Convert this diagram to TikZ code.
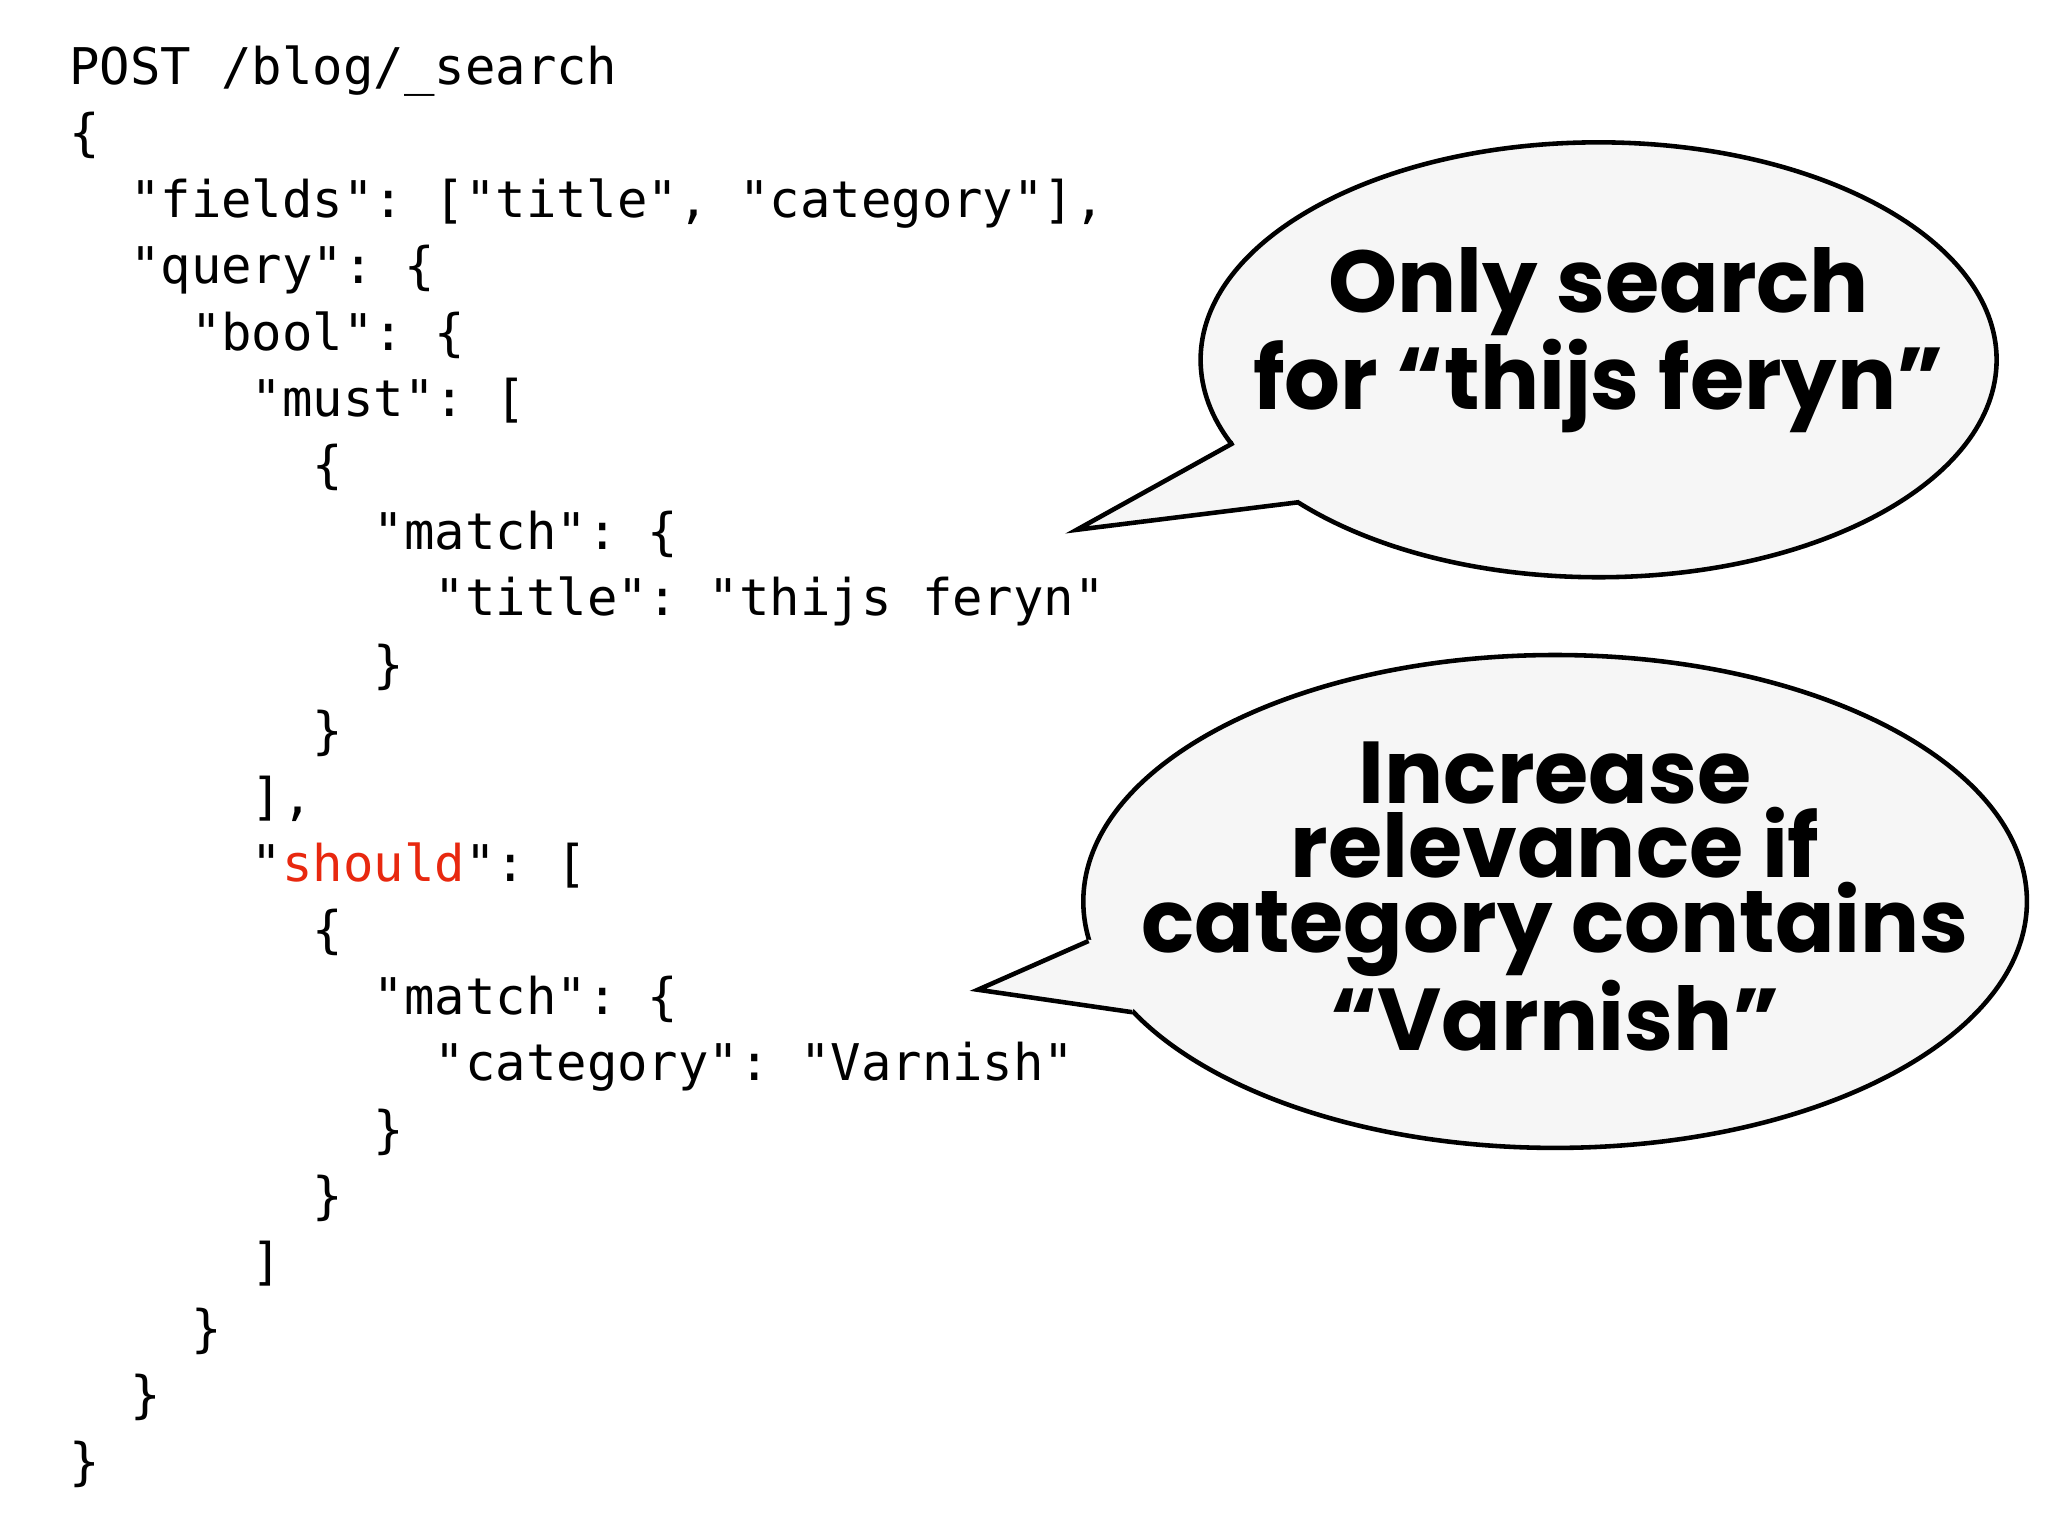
\documentclass[tikz,border=0pt]{standalone}
\usepackage{fontspec}
\setmonofont{DejaVu Sans Mono}
\newfontfamily\bubblefont{Poppins}
\usepackage{xcolor}
\definecolor{bub}{HTML}{F6F6F6}
\definecolor{kw}{HTML}{E8280F}
\tikzset{code/.style={anchor=base west,inner sep=0,font=\ttfamily\fontsize{14.4pt}{16pt}\selectfont},
bubtext/.style={align=center,inner sep=0,font=\bubblefont\bfseries\fontsize{25pt}{20pt}\selectfont}}
\begin{document}
\begin{tikzpicture}[x=0.01318cm,y=-0.01318cm]
\useasboundingbox[fill=white] (0,0) rectangle (1554,1165);
\foreach \t [count=\i from 0] in {POST /blog/\_search,\{,\ \ "fields": ["title"{,} "category"]{,},\ \ "query": \{,\ \ \ \ "bool": \{,\ \ \ \ \ \ "must": [,\ \ \ \ \ \ \ \ \{,\ \ \ \ \ \ \ \ \ \ "match": \{,\ \ \ \ \ \ \ \ \ \ \ \ "title": "thijs feryn",\ \ \ \ \ \ \ \ \ \ \},\ \ \ \ \ \ \ \ \},\ \ \ \ \ \ ]{,},{\ \ \ \ \ \ "\textcolor{kw}{should}": [},\ \ \ \ \ \ \ \ \{,\ \ \ \ \ \ \ \ \ \ "match": \{,\ \ \ \ \ \ \ \ \ \ \ \ "category": "Varnish",\ \ \ \ \ \ \ \ \ \ \},\ \ \ \ \ \ \ \ \},\ \ \ \ \ \ ],\ \ \ \ \},\ \ \},\}}
  \node[code] (l\i) at (52,{64+50.4*\i}) {\t};
% bubble 1
\draw[line width=1.3pt,fill=bub] (1213,273) ellipse [x radius=302,y radius=165];
\fill[bub] (936,335) -- (817,402) -- (986,380) -- (1000,330) -- cycle;
\draw[line width=1.3pt,line join=miter] (936,336) -- (817,402) -- (986,381);
\node[bubtext] (b1) at (1213,258) {Only search\\for “thijs feryn”};
% bubble 2
\draw[line width=1.3pt,fill=bub] (1180,684) ellipse [x radius=358,y radius=187];
\fill[bub] (826,713) -- (742,751) -- (859,768) -- (880,720) -- cycle;
\draw[line width=1.3pt,line join=miter] (826,714) -- (742,751) -- (859,768);
\node[bubtext] (b2) at (1180,680) {Increase\\relevance if\\category contains\\“Varnish”};
\end{tikzpicture}
\end{document}
